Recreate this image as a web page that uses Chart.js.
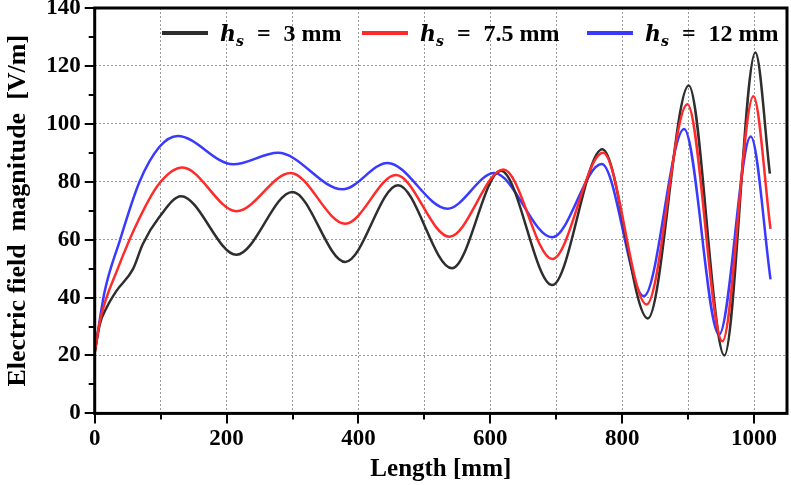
<!DOCTYPE html>
<html>
<head>
<meta charset="utf-8">
<script src="https://cdn.jsdelivr.net/npm/chart.js@4.4.1/dist/chart.umd.min.js"></script>
<style>
  html, body { margin: 0; padding: 0; background: #fff; }
  #wrap { position: relative; width: 791px; height: 485px; }
  .item { position: absolute; top: 20px; height: 28px; line-height: 28px;
          font: bold 24px "Liberation Serif", serif; color: #000; white-space: nowrap; }
  .item .swatch { display: inline-block; width: 46px; height: 4px; margin-right: 12px; vertical-align: middle; position: relative; top: -2px; }
  .item i { font-family: "DejaVu Serif", serif; font-size: 22px; }
  .item sub { font-family: "DejaVu Serif", serif; font-style: italic; font-size: 14px; vertical-align: -5px; line-height: 0; }
  .item .eq { margin: 0 13px; }
</style>
</head>
<body>
<div id="wrap">
  <canvas id="chart" width="791" height="485"></canvas>
  <div id="legend"></div>
</div>
<script>
// ======================
// DATA
// ======================
const seriesLabels = ["3 mm", "7.5 mm", "12 mm"];
const seriesColors = ["#2e2e2e", "#ff2a2a", "#3a3aff"];

// h_s = 3 mm
const lenThree = [0, 8, 18, 33, 58, 73, 98, 131, 215, 300, 380, 460, 542, 616, 694, 770, 839, 901, 955, 1002, 1024];
const valThree = [21, 31, 36.5, 42.3, 49.8, 58.5, 67.8, 75, 54.8, 76.5, 52.3, 78.8, 50.1, 83.8, 44.3, 91.2, 32.8, 113.2, 20, 124.6, 82.8];

// h_s = 7.5 mm
const lenSeven = [0, 8, 35, 68, 98, 133, 215, 297, 380, 457, 538, 620, 694, 771, 837, 899, 952, 999, 1025];
const valSeven = [21, 32, 50, 67.5, 79.4, 84.9, 69.8, 83, 65.5, 82.3, 61, 84.2, 53.3, 90, 37.6, 106.8, 24.9, 109.5, 63.7];

// h_s = 12 mm
const lenTwelve = [0, 15, 38, 68, 98, 126, 210, 278, 376, 444, 535, 606, 694, 769, 833, 894, 947, 995, 1025];
const valTwelve = [21, 42, 59.6, 80, 92, 95.8, 86, 90, 77.4, 86.5, 70.7, 83, 60.8, 86.1, 40.5, 98.2, 27.2, 95.6, 46.3];

const xTickValues = [0, 100, 200, 300, 400, 500, 600, 700, 800, 900, 1000];
const xTicksMajor = 200;
const yTicksMajor = 20;

// ======================
// BUILD DATASETS
// ======================
const toPoints = (xs, ys) => xs.map((x, i) => ({ x: x, y: ys[i] }));
const seriesPoints = [
  toPoints(lenThree, valThree),
  toPoints(lenSeven, valSeven),
  toPoints(lenTwelve, valTwelve)
];
const drawOrder = [1, 0, 2]; // red on top, then black, blue underneath

const datasets = seriesPoints.map((pts, i) => ({
  label: "hs = " + seriesLabels[i],
  data: pts,
  borderColor: seriesColors[i],
  backgroundColor: seriesColors[i],
  borderWidth: 2.5,
  pointRadius: 0,
  cubicInterpolationMode: "monotone",
  order: drawOrder[i]
}));

// ======================
// HTML LEGEND (needs subscript)
// ======================
const legendLeft = [162, 362, 587];
const legend = document.getElementById("legend");
seriesLabels.forEach((lab, i) => {
  const div = document.createElement("div");
  div.className = "item";
  div.style.left = legendLeft[i] + "px";
  div.innerHTML = `<span class="swatch" style="background:${seriesColors[i]}"></span>` +
    `<span><i>h</i><sub>s</sub><span class="eq">=</span>${lab}</span>`;
  legend.appendChild(div);
});

// ======================
// FRAME + MAJOR/MINOR TICKS
// ======================
const frameTicks = {
  id: "frameTicks",
  afterDraw(chart) {
    const { ctx, chartArea: a, scales: { x, y } } = chart;
    ctx.save();
    ctx.strokeStyle = "#000";
    ctx.lineWidth = 2;
    x.ticks.forEach(t => {
      const px = Math.round(x.getPixelForValue(t.value));
      const len = t.value % xTicksMajor === 0 ? 10 : 6;
      ctx.beginPath();
      ctx.moveTo(px, a.bottom);
      ctx.lineTo(px, a.bottom + len);
      ctx.stroke();
    });
    y.ticks.forEach(t => {
      const py = Math.round(y.getPixelForValue(t.value));
      const len = t.value % yTicksMajor === 0 ? 10 : 6;
      ctx.beginPath();
      ctx.moveTo(a.left, py);
      ctx.lineTo(a.left - len, py);
      ctx.stroke();
    });
    ctx.lineWidth = 3;
    ctx.strokeRect(a.left, a.top, a.right - a.left, a.bottom - a.top);
    ctx.restore();
  }
};

const tickFont = { family: "'Liberation Serif', serif", size: 23, weight: "bold" };

new Chart(document.getElementById("chart"), {
  type: "line",
  data: { datasets: datasets },
  options: {
    responsive: false,
    animation: false,
    layout: { padding: { top: 8, right: 4, left: 0, bottom: 0 } },
    plugins: {
      legend: { display: false },
      tooltip: { enabled: false }
    },
    scales: {
      x: {
        type: "linear",
        min: 0,
        max: 1050,
        afterBuildTicks: s => { s.ticks = xTickValues.map(v => ({ value: v })); },
        ticks: {
          autoSkip: false,
          maxRotation: 0,
          padding: 2,
          color: "#000",
          font: tickFont,
          callback: v => (v % xTicksMajor === 0 ? v : "")
        },
        grid: {
          color: "#9a9a9a",
          lineWidth: 1,
          tickLength: 10,
          tickColor: "rgba(0,0,0,0)"
        },
        border: { display: false, dash: [2, 2] },
        title: {
          display: true,
          text: "Length [mm]",
          color: "#000",
          font: { family: "'Liberation Serif', serif", size: 25, weight: "bold" },
          padding: { top: 0, bottom: 0 }
        }
      },
      y: {
        min: 0,
        max: 140,
        afterFit: s => { s.paddingTop = 0; s.paddingBottom = 0; },
        ticks: {
          stepSize: 10,
          autoSkip: false,
          padding: 4,
          color: "#000",
          font: tickFont,
          callback: v => (v % yTicksMajor === 0 ? v : "")
        },
        grid: {
          color: ctx => (ctx.tick && ctx.tick.value % yTicksMajor === 0 ? "#9a9a9a" : "rgba(0,0,0,0)"),
          lineWidth: 1,
          tickLength: 10,
          tickColor: "rgba(0,0,0,0)"
        },
        border: { display: false, dash: [2, 2] },
        title: {
          display: true,
          text: "Electric field  magnitude  [V/m]",
          color: "#000",
          font: { family: "'Liberation Serif', serif", size: 26, weight: "bold" },
          padding: { top: 3, bottom: 8 }
        }
      }
    }
  },
  plugins: [frameTicks]
});
</script>
</body>
</html>
